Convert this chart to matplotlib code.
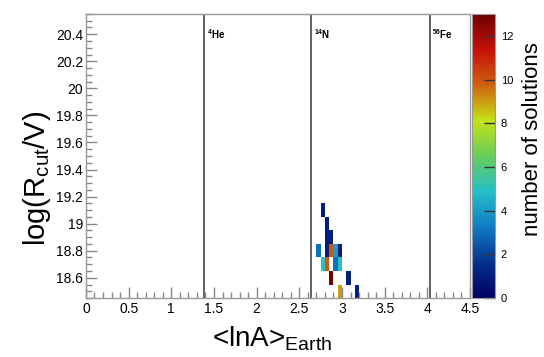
import numpy as np
import matplotlib
matplotlib.use('Agg')
import matplotlib.pyplot as plt
from matplotlib.colors import LinearSegmentedColormap
from matplotlib.ticker import MultipleLocator

plt.rcParams['font.family'] = ['Liberation Sans', 'DejaVu Sans']
plt.rcParams['mathtext.fontset'] = 'custom'
plt.rcParams['mathtext.rm'] = 'Liberation Sans'
plt.rcParams['mathtext.it'] = 'Liberation Sans'
plt.rcParams['mathtext.bf'] = 'Liberation Sans:bold'

# filled histogram cells: <lnA> bin centre, log(Rcut) bin centre, count
cell_lnA = [2.975, 3.175,
            2.875, 3.075,
            2.775, 2.825, 2.925, 2.975,
            2.725, 2.825, 2.875, 2.925, 2.975,
            2.825, 2.875,
            2.825,
            2.775]
cell_logR = [18.5, 18.5,
             18.6, 18.6,
             18.7, 18.7, 18.7, 18.7,
             18.8, 18.8, 18.8, 18.8, 18.8,
             18.9, 18.9,
             19.0,
             19.1]
cell_count = [9, 1,
              13, 1,
              5, 10, 3, 5,
              3, 1, 10, 4, 1,
              1, 1,
              1,
              1]

# binning of the histogram
x_edges = np.linspace(0, 4.5, 91)
y_edges = np.linspace(18.45, 20.55, 22)

# element reference lines
elements = ['$^{\\mathbf{4}}$He', '$^{\\mathbf{14}}$N', '$^{\\mathbf{56}}$Fe']
element_lnA = [np.log(4), np.log(14), np.log(56)]

# ROOT kRainBow palette
rb_r = [0, 5, 15, 35, 102, 196, 208, 199, 110]
rb_g = [0, 48, 124, 192, 206, 226, 97, 16, 0]
rb_b = [99, 142, 198, 201, 90, 22, 13, 8, 2]
cmap = LinearSegmentedColormap.from_list(
    'rainbow_root', [(r / 255, g / 255, b / 255) for r, g, b in zip(rb_r, rb_g, rb_b)])

H, _, _ = np.histogram2d(cell_lnA, cell_logR, bins=[x_edges, y_edges], weights=cell_count)
H = np.ma.masked_where(H <= 0, H)

fig = plt.figure(figsize=(5.44, 3.57), dpi=100)
ax = fig.add_axes([0.158, 0.165, 0.706, 0.796])
cax = fig.add_axes([0.868, 0.165, 0.042, 0.796])

mesh = ax.pcolormesh(x_edges, y_edges, H.T, cmap=cmap, vmin=0, vmax=13)

for name, xv in zip(elements, element_lnA):
    ax.axvline(xv, color='#555555', lw=1.3)
    ax.text(xv + 0.03, 20.40, name, fontsize=7, fontweight='bold', va='center', ha='left')

ax.set_xlim(0, 4.5)
ax.set_ylim(18.45, 20.55)
ax.xaxis.set_major_locator(MultipleLocator(0.5))
ax.xaxis.set_minor_locator(MultipleLocator(0.1))
ax.yaxis.set_major_locator(MultipleLocator(0.2))
ax.yaxis.set_minor_locator(MultipleLocator(0.05))
ax.xaxis.set_major_formatter(plt.FuncFormatter(lambda v, p: '%g' % round(v, 2)))
ax.yaxis.set_major_formatter(plt.FuncFormatter(lambda v, p: '%g' % round(v, 2)))
ax.tick_params(which='both', direction='in', colors='#888888', labelcolor='black', labelsize=10,
               top=False, right=False)
ax.tick_params(which='major', length=8, width=1)
ax.tick_params(which='minor', length=4, width=1)
ax.tick_params(axis='y', pad=2)
ax.tick_params(axis='x', pad=3)
for s in ax.spines.values():
    s.set_color('#999999')
    s.set_linewidth(1)

cb = fig.colorbar(mesh, cax=cax)
cb.set_ticks([0, 2, 4, 6, 8, 10, 12])
cb.ax.tick_params(direction='in', length=8, width=1, color='#333333', labelsize=8, pad=4)
cb.outline.set_edgecolor('#999999')

fig.text(0.5, 0.05, '<lnA>$_{\\mathrm{Earth}}$', fontsize=20, ha='center', va='center')
fig.text(0.068, 0.50, 'log(R$_{\\mathrm{cut}}$/V)', fontsize=21, rotation=90, ha='center', va='center')
fig.text(0.978, 0.61, 'number of solutions', fontsize=16, rotation=90, ha='center', va='center')

fig.savefig('out.png', dpi=100)
